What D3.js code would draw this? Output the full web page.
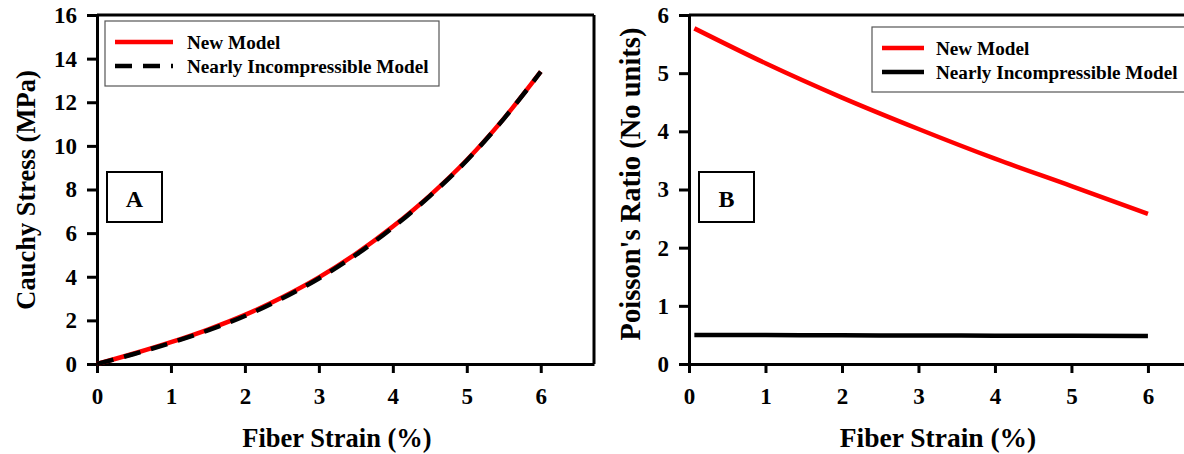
<!DOCTYPE html>
<html>
<head>
<meta charset="utf-8">
<script src="https://d3js.org/d3.v7.min.js"></script>
<style>
  body { margin: 0; background: #fff; }
  svg { display: block; font-family: "Liberation Serif", "Times New Roman", serif; font-weight: bold; }
  svg text { font-family: "Liberation Serif", "Times New Roman", serif; font-weight: bold; }
</style>
</head>
<body>
<div id="chart"></div>
<script>
// Panel A data: Cauchy stress vs fiber strain
const strainA = [0, 0.5, 1, 1.5, 2, 2.5, 3, 3.5, 4, 4.5, 5, 5.5, 6];
const stressNew = [0, 0.48, 1.0, 1.58, 2.25, 3.05, 3.97, 5.05, 6.3, 7.72, 9.35, 11.25, 13.4];
const stressNearly = [0, 0.46, 0.97, 1.54, 2.2, 3.0, 3.92, 5.0, 6.26, 7.7, 9.33, 11.24, 13.4];
const ticksA = [0, 2, 4, 6, 8, 10, 12, 14, 16];

// Panel B data: Poisson's ratio vs fiber strain
const strainB = [0.07, 1, 2, 3, 4, 5, 6];
const poissonNew = [5.77, 5.17, 4.58, 4.04, 3.53, 3.06, 2.58];
const poissonNearly = [0.5, 0.497, 0.494, 0.49, 0.487, 0.484, 0.48];
const ticksB = [0, 1, 2, 3, 4, 5, 6];

const xTicks = [0, 1, 2, 3, 4, 5, 6];
const seriesNames = ["New Model", "Nearly Incompressible Model"];

const svg = d3.select("#chart").append("svg")
  .attr("width", 1184)
  .attr("height", 454);

function drawPanel(p) {
  const g = svg.append("g");
  const x = d3.scaleLinear().domain([0, 6.72]).range([p.left, p.right]);
  const y = d3.scaleLinear().domain([0, p.yMax]).range([364, 15]);

  // frame (top + right)
  g.append("line").attr("x1", p.left).attr("x2", p.right).attr("y1", 15).attr("y2", 15)
    .attr("stroke", "#000").attr("stroke-width", 3);
  g.append("line").attr("x1", p.right).attr("x2", p.right).attr("y1", 15).attr("y2", 364)
    .attr("stroke", "#000").attr("stroke-width", 3);

  // axes
  const fmt = d3.format("d");
  const ax = g.append("g").attr("transform", "translate(0,364)")
    .call(d3.axisBottom(x).tickValues(xTicks).tickFormat(fmt).tickSize(9).tickPadding(10).tickSizeOuter(0));
  const ay = g.append("g").attr("transform", `translate(${p.left},0)`)
    .call(d3.axisLeft(y).tickValues(p.yTicks).tickFormat(fmt).tickSize(10).tickPadding(10).tickSizeOuter(0));
  [ax, ay].forEach(a => {
    a.attr("font-family", null).attr("font-size", null);
    a.select(".domain").attr("stroke-width", 3);
    a.selectAll(".tick line").attr("stroke-width", 3);
    a.selectAll("text")
      .style("font-size", "23px")
      .style("font-family", "'Liberation Serif', serif")
      .style("font-weight", "bold")
      .attr("fill", "#000");
  });
  ax.selectAll("text").attr("dy", "0.71em").attr("y", 24);
  ay.selectAll("text").attr("x", -20);

  // lines
  const line = d3.line().x((d, i) => x(p.xs[i])).y(d => y(d)).curve(d3.curveMonotoneX);
  g.append("path").datum(p.ys[0]).attr("d", line).attr("fill", "none")
    .attr("stroke", "#ff0000").attr("stroke-width", 4.5);
  g.append("path").datum(p.ys[1]).attr("d", line).attr("fill", "none")
    .attr("stroke", "#000").attr("stroke-width", 4.5)
    .attr("stroke-dasharray", p.dashed ? "17,11" : null);

  // axis titles
  g.append("text").attr("x", p.xTitleX).attr("y", 447).attr("text-anchor", "middle")
    .attr("font-size", p.titleSize).text("Fiber Strain (%)");
  g.append("text").attr("transform", `translate(${p.yTitleX},${p.yTitleY}) rotate(-90)`)
    .attr("text-anchor", "middle").attr("font-size", p.yTitleSize).text(p.yTitle);

  // panel letter box
  g.append("rect").attr("x", p.box[0]).attr("y", 172).attr("width", 55).attr("height", 50)
    .attr("fill", "#fff").attr("stroke", "#000").attr("stroke-width", 2);
  g.append("text").attr("x", p.box[0] + 27.5).attr("y", 207).attr("text-anchor", "middle")
    .attr("font-size", 24).text(p.letter);

  // legend
  const L = p.legend;
  g.append("rect").attr("x", L.x).attr("y", L.y).attr("width", L.w).attr("height", 65)
    .attr("fill", "#fff").attr("stroke", "#555").attr("stroke-width", 1.2);
  seriesNames.forEach((name, i) => {
    const yy = L.y + 21 + i * 24;
    g.append("line").attr("x1", L.x + 10).attr("x2", L.x + L.lineLen).attr("y1", yy).attr("y2", yy)
      .attr("stroke", i === 0 ? "#ff0000" : "#000").attr("stroke-width", 4.5)
      .attr("stroke-dasharray", (i === 1 && p.dashed) ? "17,11" : null);
    g.append("text").attr("x", L.textX).attr("y", yy + 6.5).attr("font-size", 19.2).text(name);
  });
}

drawPanel({
  left: 97, right: 594, yMax: 16, yTicks: ticksA,
  xs: strainA, ys: [stressNew, stressNearly], dashed: true,
  xTitleX: 337, yTitleX: 35, yTitleY: 190, titleSize: 26.5, yTitleSize: 26.5,
  yTitle: "Cauchy Stress (MPa)", letter: "A", box: [107],
  legend: { x: 105, y: 21, w: 334, lineLen: 68, textX: 187 }
});

drawPanel({
  left: 689, right: 1203, yMax: 6, yTicks: ticksB,
  xs: strainB, ys: [poissonNew, poissonNearly], dashed: false,
  xTitleX: 938, yTitleX: 640, yTitleY: 184, titleSize: 27.5, yTitleSize: 28.5,
  yTitle: "Poisson's Ratio (No units)", letter: "B", box: [699],
  legend: { x: 872, y: 27, w: 330, lineLen: 52, textX: 936 }
});
</script>
</body>
</html>
